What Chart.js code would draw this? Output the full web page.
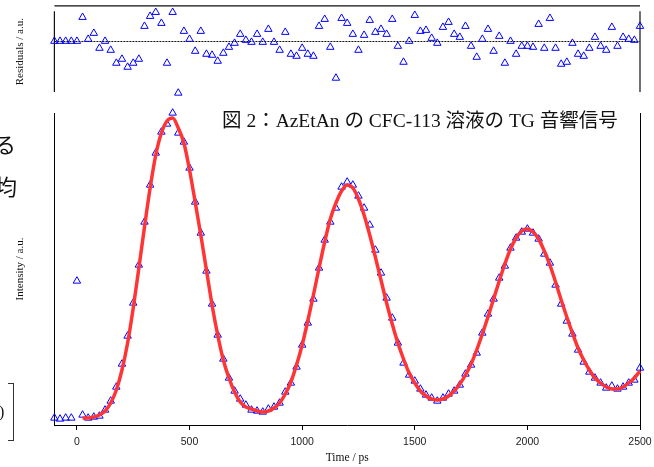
<!DOCTYPE html>
<html>
<head>
<meta charset="utf-8">
<script src="https://cdn.jsdelivr.net/npm/chart.js@4.4.0/dist/chart.umd.min.js"></script>
<style>
  html, body { margin: 0; padding: 0; background: #fff; }
  #wrap { position: relative; width: 654px; height: 467px; overflow: hidden; }
  #main, #resid { position: absolute; left: 0; top: 0; }
  .txt { position: absolute; white-space: nowrap; color: #111; }
  #caption { left: 222px; top: 111px; font: 19.5px/19px 'Liberation Serif', 'Noto Sans CJK JP'; }
  .frag { font: 22px/22px 'Noto Sans CJK JP'; }
  #bracket { position: absolute; left: 8px; top: 383px; width: 5px; height: 56px; border: 1px solid #333; border-left: none; }
</style>
</head>
<body>
<div id="wrap">
  <canvas id="main" width="654" height="467"></canvas>
  <canvas id="resid" width="654" height="104"></canvas>
  <div class="txt" id="caption">図 2：AzEtAn の CFC-113 溶液の TG 音響信号</div>
  <div class="txt frag" style="left:-6px; top:132px">る</div>
  <div class="txt frag" style="left:-5px; top:174px">均</div>
  <div class="txt" style="left:-1px; top:404px; font: 16px/16px 'Liberation Serif'">)</div>
  <div id="bracket"></div>
</div>
<script>
const time = [
  -100, -75, -50, -25, 0, 25, 50, 75, 100, 125,
  150, 175, 200, 225, 250, 275, 300, 325, 350, 375,
  400, 425, 450, 475, 500, 525, 550, 575, 600, 625,
  650, 675, 700, 725, 750, 775, 800, 825, 850, 875,
  900, 925, 950, 975, 1000, 1025, 1050, 1075, 1100, 1125,
  1150, 1175, 1200, 1225, 1250, 1275, 1300, 1325, 1350, 1375,
  1400, 1425, 1450, 1475, 1500, 1525, 1550, 1575, 1600, 1625,
  1650, 1675, 1700, 1725, 1750, 1775, 1800, 1825, 1850, 1875,
  1900, 1925, 1950, 1975, 2000, 2025, 2050, 2075, 2100, 2125,
  2150, 2175, 2200, 2225, 2250, 2275, 2300, 2325, 2350, 2375,
  2400, 2425, 2450, 2475, 2500
]

// measured signal (a.u.)
const intensity = [
  7, 6, 7, 7, 144, 10, 7, 8, 9, 15,
  24, 38, 61, 89, 122, 160, 203, 240, 272, 293,
  301, 312, 292, 283, 257, 223, 192, 154, 121, 90,
  66, 47, 34, 26, 20, 15, 14, 13, 16, 18,
  22, 33, 42, 58, 80, 102, 126, 157, 185, 203,
  217, 238, 243, 240, 229, 217, 200, 175, 152, 127,
  107, 82, 62, 50, 44, 36, 30, 27, 24, 27,
  31, 34, 40, 51, 60, 72, 92, 111, 126, 147,
  159, 177, 187, 193, 196, 192, 186, 171, 162, 140,
  121, 104, 91, 75, 63, 53, 47, 42, 37, 39,
  36, 38, 42, 45, 57
]

// fitted curve
const fit = [
  null, null, null, null, null, 7, 7, 8, 10, 14,
  22, 35, 55, 82, 117, 157, 198, 237, 270, 292,
  304, 307, 297, 282, 255, 223, 190, 155, 120, 90,
  65, 47, 33, 23, 18, 16, 14, 13, 14, 17,
  22, 31, 43, 60, 80, 104, 130, 157, 183, 206,
  222, 234, 240, 237, 226, 210, 190, 168, 145, 122,
  101, 82, 66, 52, 42, 34, 29, 26, 25, 26,
  29, 34, 41, 50, 61, 75, 91, 108, 126, 144,
  161, 176, 187, 194, 196, 193, 186, 174, 160, 143,
  125, 108, 92, 77, 65, 55, 47, 42, 38, 36,
  36, 38, 42, 47, 54
]

const residual = [
  0, 0, 0, 0, 0, 24, 2, 8, -7, 0,
  -9, -22, -18, -26, -22, -18, 15, 25, 29, 18,
  -22, 29, -52, 10, 2, -10, 10, -13, -14, -20,
  -12, -6, -2, 7, 1, -1, 7, -1, 12, -1,
  -9, 9, -13, -15, -7, -13, -15, 15, 22, -6,
  -37, 23, 18, 7, -9, 6, 21, 9, 12, 7,
  22, -5, -21, 0, 26, 10, 11, 3, -2, 14,
  19, 7, 4, 15, -5, -16, 2, 12, -10, 5,
  -22, 0, -13, -5, -5, -6, 17, -7, 23, -7,
  -23, -21, -2, -13, -15, -7, 4, -5, -9, 14,
  -5, 4, 2, 1, 15
]

const xTicks = [0, 500, 1000, 1500, 2000, 2500]

const points = (ys) => time.map((t, i) => ({ x: t, y: ys[i] })).filter(p => p.y !== null)

const serif = 'Liberation Serif'
const sans = 'Liberation Sans'

const yTitle = (text) => ({
  display: true,
  text,
  color: '#111',
  font: { family: serif, size: 11 },
  padding: { top: 4, bottom: 27.3 }
})

const bare = { display: false, drawTicks: false }

const triangles = (ys) => ({
  type: 'scatter',
  data: points(ys),
  pointStyle: 'triangle',
  pointRadius: 4.3,
  borderColor: '#0000ff',
  backgroundColor: 'rgba(0,0,0,0)',
  borderWidth: 1,
  clip: false,
  order: 1
})

const common = {
  responsive: false,
  animation: false,
  events: [],
  plugins: { legend: { display: false }, tooltip: { enabled: false } }
}

// frame of the residual panel: top rule, short side rules and dotted zero line
const residFrame = {
  id: 'residFrame',
  beforeDatasetsDraw (chart) {
    const { ctx, chartArea: a, scales: { y } } = chart
    ctx.save()
    ctx.strokeStyle = '#111'
    ctx.lineWidth = 1.2
    ctx.beginPath()
    ctx.moveTo(a.left, a.top + 0.5)
    ctx.lineTo(a.right, a.top + 0.5)
    ctx.moveTo(a.left, a.top + 6)
    ctx.lineTo(a.left, a.bottom - 6)
    ctx.moveTo(a.right, a.top + 6)
    ctx.lineTo(a.right, a.bottom - 6)
    ctx.stroke()
    const y0 = Math.round(y.getPixelForValue(0)) + 0.5
    ctx.lineWidth = 1
    ctx.setLineDash([2, 1])
    ctx.beginPath()
    ctx.moveTo(a.left, y0)
    ctx.lineTo(a.right, y0)
    ctx.stroke()
    ctx.restore()
  }
}

new Chart(document.getElementById('main'), {
  type: 'scatter',
  data: {
    datasets: [
      {
        type: 'line',
        data: points(fit),
        borderColor: '#ff3535',
        borderWidth: 3.5,
        pointRadius: 0,
        fill: false,
        cubicInterpolationMode: 'monotone',
        clip: false,
        order: 0
      },
      triangles(intensity)
    ]
  },
  options: {
    ...common,
    layout: { padding: { left: 9.9, top: 113, right: 14, bottom: 0.6 } },
    scales: {
      x: {
        type: 'linear',
        min: -100,
        max: 2500,
        afterBuildTicks: (scale) => { scale.ticks = xTicks.map(v => ({ value: v })) },
        // end labels may hang past the plot edge, as in the original
        afterFit: (scale) => { scale.paddingLeft = 0; scale.paddingRight = 0 },
        border: { color: '#000', width: 1 },
        grid: { drawOnChartArea: false, color: '#000', tickLength: 5 },
        ticks: {
          color: '#222',
          font: { family: sans, size: 10.5 },
          padding: 6,
          maxRotation: 0,
          callback: (v) => String(v)
        },
        title: {
          display: true,
          text: 'Time / ps',
          color: '#111',
          font: { family: serif, size: 11.5 },
          padding: { top: -4, bottom: 2 }
        }
      },
      y: {
        min: 0,
        max: 312,
        ticks: { display: false },
        grid: bare,
        border: { color: '#000', width: 1 },
        title: yTitle('Intensity / a.u.')
      },
      y2: {
        position: 'right',
        min: 0,
        max: 312,
        ticks: { display: false },
        grid: bare,
        border: { color: '#000', width: 1 }
      }
    }
  }
})

new Chart(document.getElementById('resid'), {
  type: 'scatter',
  data: { datasets: [triangles(residual)] },
  options: {
    ...common,
    layout: { padding: { left: 9.9, top: 5, right: 14, bottom: 6 } },
    scales: {
      x: { type: 'linear', min: -100, max: 2500, display: false },
      y: {
        min: -57,
        max: 36,
        ticks: { display: false },
        grid: bare,
        border: { display: false },
        title: yTitle('Residuals / a.u.')
      }
    }
  },
  plugins: [residFrame]
})
</script>
</body>
</html>
